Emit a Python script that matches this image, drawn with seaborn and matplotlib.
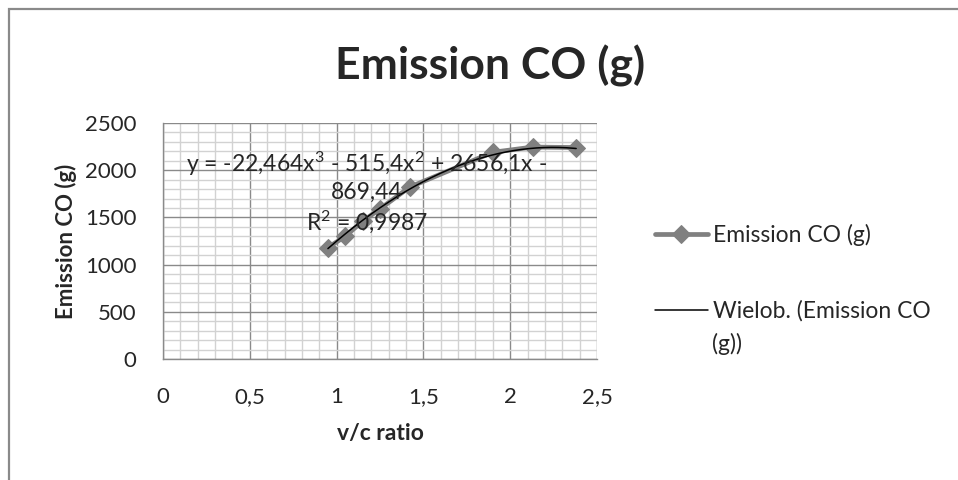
import numpy as np
import seaborn as sns
import matplotlib.pyplot as plt
from matplotlib import ticker
from matplotlib.patches import Rectangle

# data
vc_ratio = [0.95, 1.05, 1.15, 1.25, 1.42, 1.90, 2.13, 2.38]
emission_co = [1180, 1300, 1460, 1590, 1820, 2190, 2245, 2240]

# order 3 polynomial trendline, coefficients as printed on the chart
trend_coef = [-22.464, -515.4, 2656.1, -869.44]
trend_text = ('y = -22,464x$^3$ - 515,4x$^2$ + 2656,1x -\n869,44\n'
              'R$^2$ = 0,9987')

series_label = 'Emission CO (g)'
trend_label = 'Wielob. (Emission CO'

sns.set_style('white')
plt.rcParams['font.family'] = ['Lato', 'DejaVu Sans']
plt.rcParams['mathtext.fontset'] = 'custom'
plt.rcParams['mathtext.rm'] = 'Lato'
plt.rcParams['mathtext.it'] = 'Lato'
plt.rcParams['mathtext.default'] = 'regular'

fig = plt.figure(figsize=(9.58, 4.8), dpi=100)
ax = fig.add_axes([163 / 958, 1 - 359 / 480, 434 / 958, 236 / 480])

# series and trendline
sns.lineplot(x=vc_ratio, y=emission_co, ax=ax, color='#808080', lw=3.4,
             marker='D', markersize=9, markeredgecolor='#808080',
             label=series_label, zorder=3)
trend_x = np.linspace(min(vc_ratio), max(vc_ratio), 200)
trend_y = np.polyval(trend_coef, trend_x)
sns.lineplot(x=trend_x, y=trend_y, ax=ax, color='black', lw=1.1,
             label=trend_label, zorder=4)

ax.text(1.175, 1765, trend_text, ha='center', va='center', fontsize=16.5,
        linespacing=1.25, zorder=5)

# axes, grid
ax.set_xlim(0, 2.5)
ax.set_ylim(0, 2500)
ax.xaxis.set_major_locator(ticker.MultipleLocator(0.5))
ax.xaxis.set_minor_locator(ticker.MultipleLocator(0.1))
ax.yaxis.set_major_locator(ticker.MultipleLocator(500))
ax.yaxis.set_minor_locator(ticker.MultipleLocator(100))
comma = ticker.FuncFormatter(lambda v, p: ('%g' % v).replace('.', ','))
ax.xaxis.set_major_formatter(comma)
ax.grid(which='minor', color='#d2d2d2', lw=1.0)
ax.grid(which='major', color='#8a8a8a', lw=1.0)
ax.set_axisbelow(True)
for side in ['top', 'right']:
    ax.spines[side].set_visible(False)
for side in ['left', 'bottom']:
    ax.spines[side].set_color('#8a8a8a')
    ax.spines[side].set_linewidth(1.0)
ax.tick_params(which='major', length=7, width=1, color='#8a8a8a',
               labelsize=16)
ax.tick_params(axis='x', pad=13)
ax.tick_params(axis='y', pad=12)
ax.tick_params(which='minor', length=0)

ax.set_xlabel('v/c ratio', fontsize=16.5, fontweight='bold', labelpad=12)
ax.set_ylabel('Emission CO (g)', fontsize=16, fontweight='bold', labelpad=6)
fig.suptitle('Emission CO (g)', x=490 / 958, y=1 - 66 / 480, va='center',
             fontsize=32, fontweight='bold')

# legend on the right
handles, labels = ax.get_legend_handles_labels()
ax.get_legend().remove()
fig.legend(handles, labels, loc='center left',
           bbox_to_anchor=(655 / 958, 1 - 273 / 480), frameon=False,
           fontsize=16.5, handlelength=2.3, handletextpad=0.25,
           labelspacing=2.35, borderpad=0, borderaxespad=0)
fig.text(712 / 958, 1 - 344 / 480, '(g))', fontsize=16.5, va='center')

# chart border
fig.patches.append(Rectangle((9 / 958, -0.1), 1.2, 1.1 - 9 / 480,
                             transform=fig.transFigure, fill=False,
                             edgecolor='#8a8a8a', lw=1.6))

fig.savefig('out.png', dpi=100)
